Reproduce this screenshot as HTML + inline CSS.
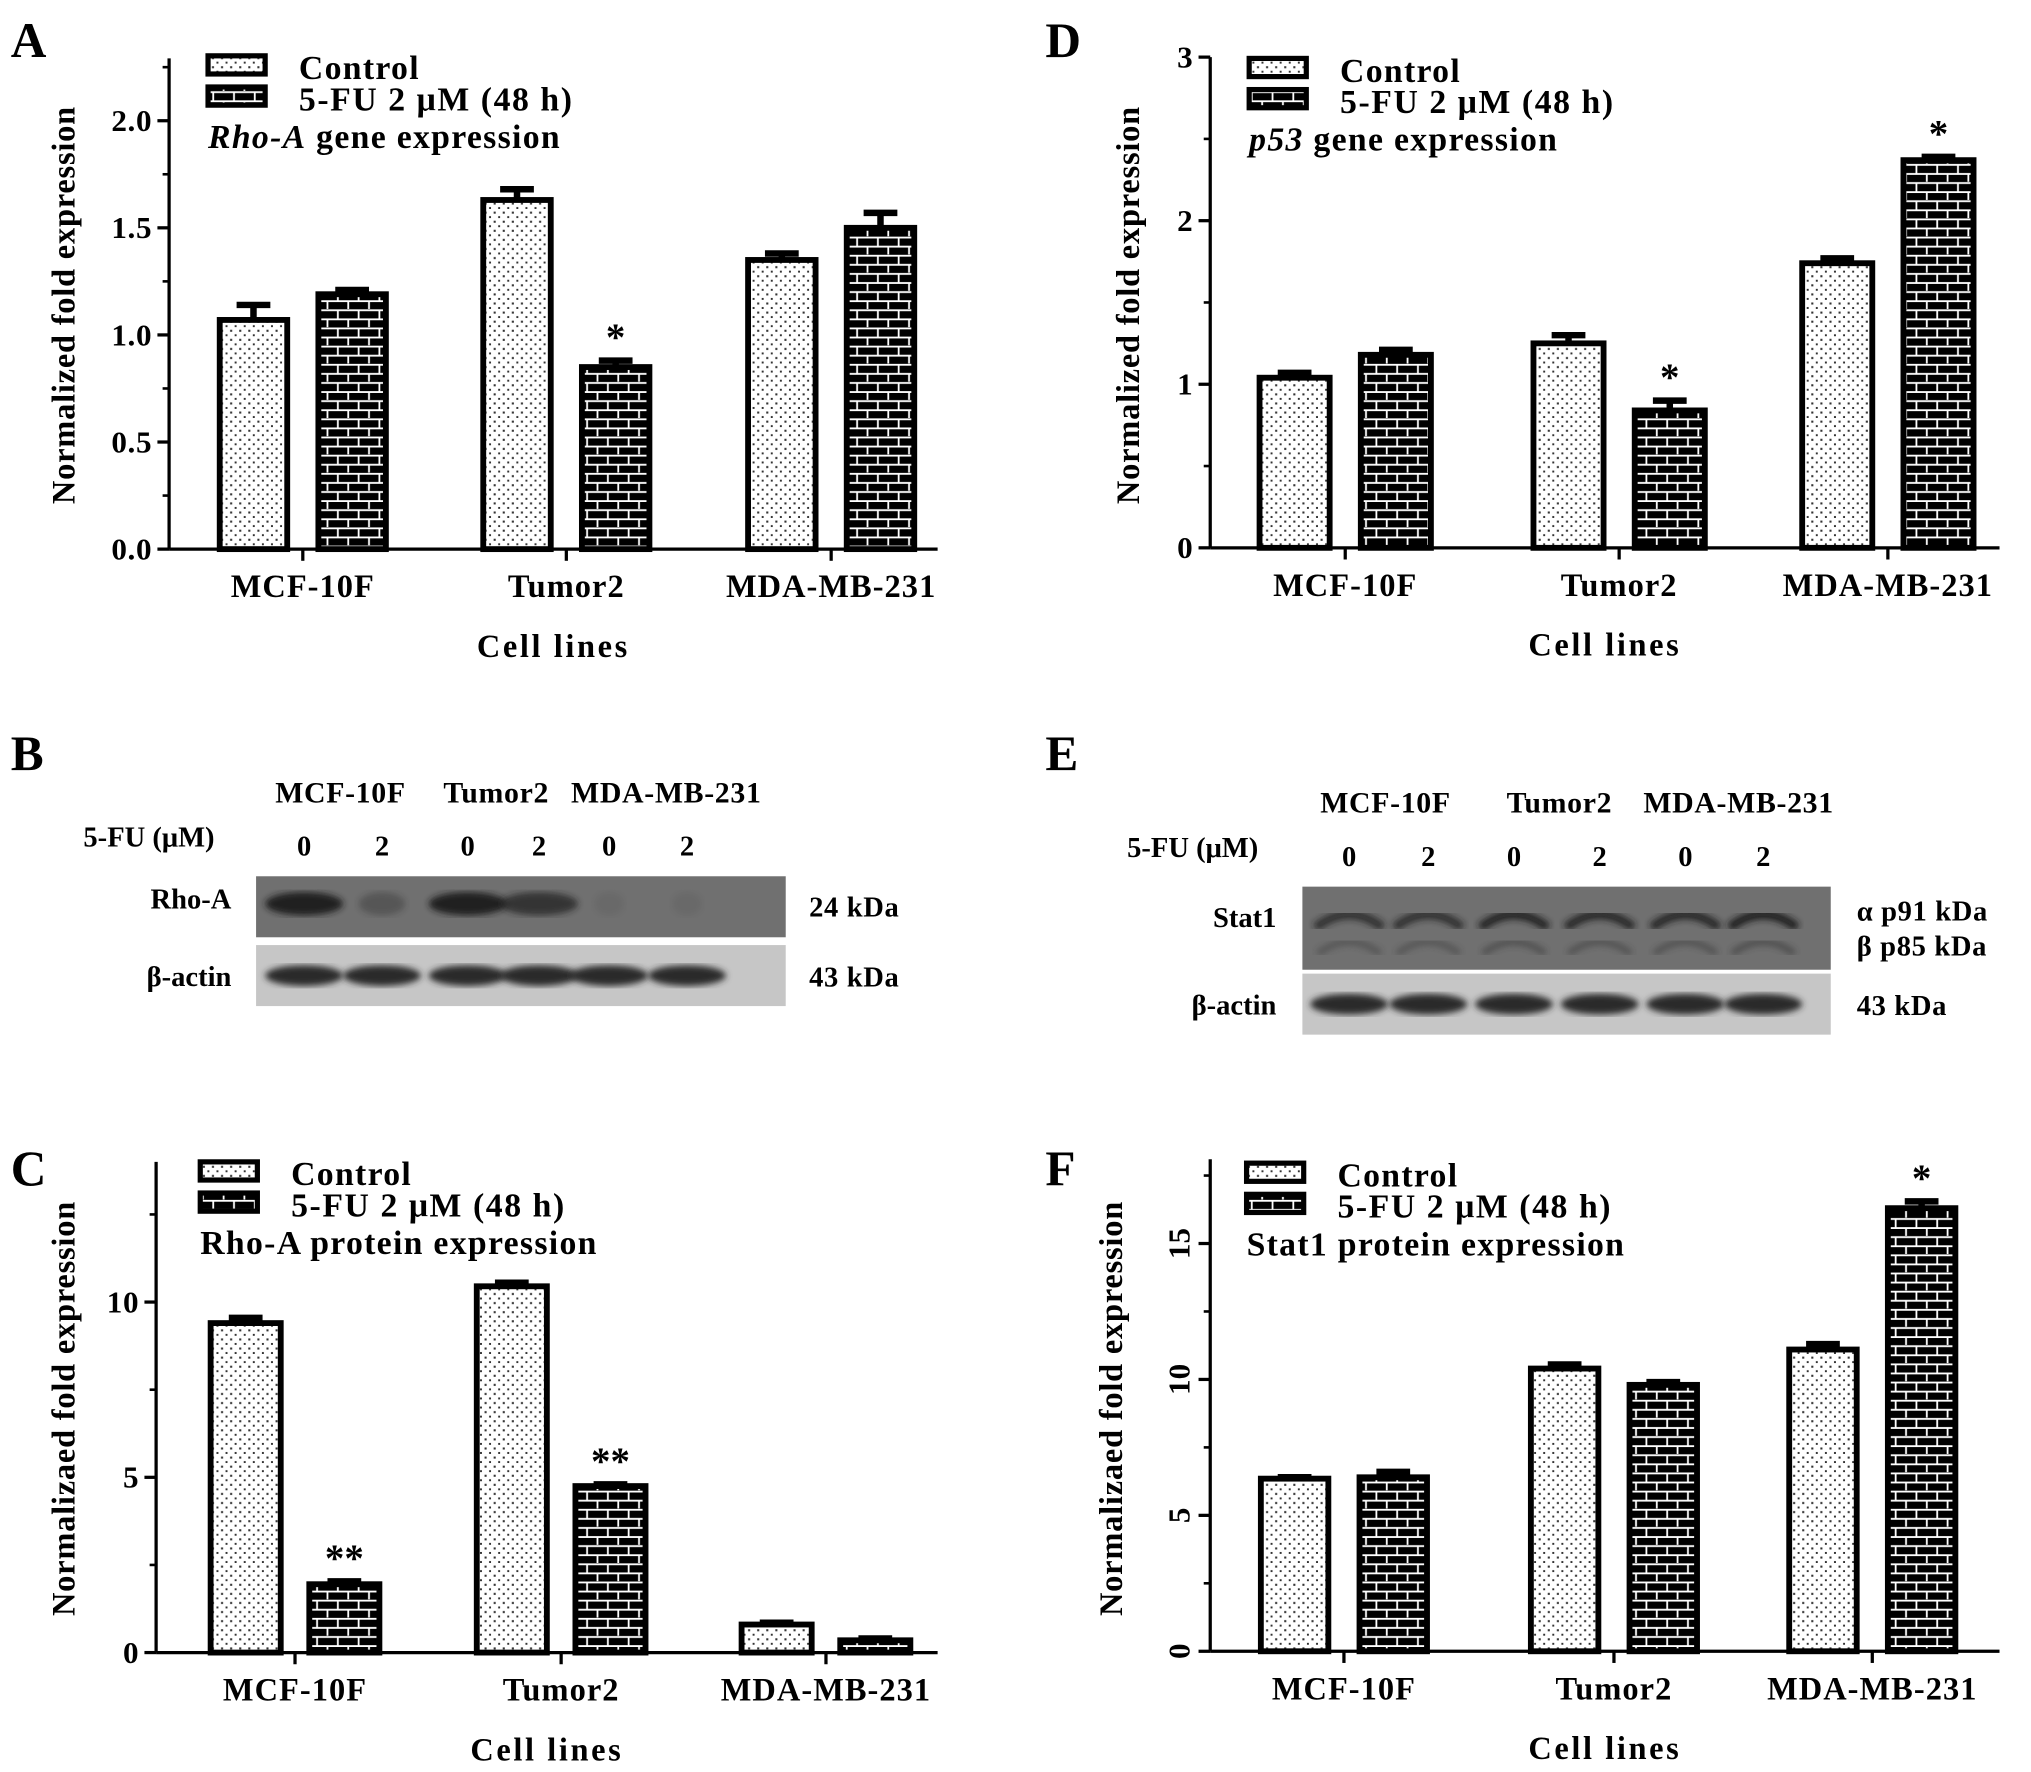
<!DOCTYPE html>
<html><head><meta charset="utf-8"><style>
html,body{margin:0;padding:0;background:#fff}
svg{display:block}
text{font-family:"Liberation Serif",serif;font-weight:bold;fill:#000}
</style></head><body>
<svg id="fig" width="2031" height="1772" viewBox="0 0 1564 1365" xmlns="http://www.w3.org/2000/svg">
<defs>
<pattern id="dots" width="7" height="7" patternUnits="userSpaceOnUse">
<rect width="7" height="7" fill="#fff"/><rect x="2" y="2" width="1.6" height="1.6" fill="#333"/><rect x="5.5" y="5.5" width="1.6" height="1.6" fill="#333"/>
</pattern>
<pattern id="brick" width="16" height="14" patternUnits="userSpaceOnUse">
<rect width="16" height="14" fill="#000"/>
<path d="M0 1 H16 M0 8 H16 M4 1 V8 M12 8 V14" stroke="#fff" stroke-width="1.4"/>
</pattern>
<filter id="blur"><feGaussianBlur stdDeviation="2.5"/></filter>
</defs>
<g id="root"></g>
</svg>
<script>
// Panel A data
const catsA = ["MCF-10F","Tumor2","MDA-MB-231"];
const ctrlA = [1.07,1.63,1.35];
const ctrlErrA = [0.07,0.05,0.03];
const trtA = [1.19,0.85,1.50];
const trtErrA = [0.02,0.03,0.07];
const ticksA = ["0.0","0.5","1.0","1.5","2.0"];
// Panel D data
const catsD = ["MCF-10F","Tumor2","MDA-MB-231"];
const ctrlD = [1.04,1.25,1.74];
const ctrlErrD = [0.03,0.05,0.03];
const trtD = [1.18,0.84,2.37];
const trtErrD = [0.03,0.06,0.02];
const ticksD = ["0","1","2","3"];
// Panel C data
const catsC = ["MCF-10F","Tumor2","MDA-MB-231"];
const ctrlC = [9.4,10.45,0.8];
const ctrlErrC = [0.15,0.1,0.05];
const trtC = [1.95,4.75,0.35];
const trtErrC = [0.08,0.05,0.05];
const ticksC = ["0","5","10"];
// Panel F data
const catsF = ["MCF-10F","Tumor2","MDA-MB-231"];
const ctrlF = [6.35,10.4,11.1];
const ctrlErrF = [0.05,0.15,0.2];
const trtF = [6.4,9.8,16.3];
const trtErrF = [0.2,0.1,0.25];
const ticksF = ["0","5","10","15"];

const NS="http://www.w3.org/2000/svg";
const root=document.getElementById('root');
function mk(tag,attrs,parent){const e=document.createElementNS(NS,tag);for(const k in attrs)e.setAttribute(k,attrs[k]);(parent||root).appendChild(e);return e;}
function txt(s,x,y,size,parent,extra){const t=mk('text',Object.assign({x:x,y:y,'font-size':size},extra||{}),parent);t.textContent=s;return t;}

function panel(o){
  const g=mk('g',{});
  
  
  const yS=v=>o.y0-(v/o.step)*o.stepPx;
  const xS=(i,k)=>o.cx[i]+(k===0?-o.off:o.off);
  const ax=mk('line',{x1:o.ax,y1:o.y0,x2:o.ax,y2:o.top,stroke:'#000','stroke-width':2.5},g);
  
  o.ticks.forEach((t,i)=>{
    const y=yS(i*o.step);
    mk('line',{x1:o.ax-9,y1:y,x2:o.ax,y2:y,stroke:'#000','stroke-width':2.5},g);
    if(o.minor){const ym=yS((i+0.5)*o.step); if(ym>o.top) mk('line',{x1:o.ax-5,y1:ym,x2:o.ax,y2:ym,stroke:'#000','stroke-width':2},g);}
    let tl;
    if(o.rotTicks) tl=txt(t,0,0,24,g,{'text-anchor':'middle',transform:`translate(${o.ax-16},${y}) rotate(-90)`});
    else tl=txt(t,o.ax-13,y+8,24,g,{'text-anchor':'end','letter-spacing':'0.5'});
    
  });
  const xa=mk('line',{x1:o.ax,y1:o.y0,x2:o.xEnd,y2:o.y0,stroke:'#000','stroke-width':2.5},g);
  
  o.cats.forEach((c,i)=>{
    mk('line',{x1:o.cx[i],y1:o.y0,x2:o.cx[i],y2:o.y0+9,stroke:'#000','stroke-width':2.5},g);
    const tl=txt(c,o.cx[i],o.y0+37,25,g,{'text-anchor':'middle','letter-spacing':'0.8'});
    
  });
  const xt=txt('Cell lines',(o.ax+o.xEnd)/2,o.y0+83,25,g,{'text-anchor':'middle','letter-spacing':'2'});
  
  const yt=txt(o.ytitle,0,0,25,g,{'text-anchor':'middle','letter-spacing':'0.6',transform:`translate(${o.ytx},${o.yty}) rotate(-90)`});
  
  [[o.ctrl,o.ctrlErr,'url(#dots)'],[o.trt,o.trtErr,'url(#brick)']].forEach((s,k)=>{
    s[0].forEach((v,i)=>{
      const x=xS(i,k),y=yS(v),w=o.bw;
      const eT=yS(v+s[1][i]);
      mk('line',{x1:x,y1:y,x2:x,y2:eT,stroke:'#000','stroke-width':5},g);
      mk('line',{x1:x-13,y1:eT,x2:x+13,y2:eT,stroke:'#000','stroke-width':5},g);
      const b=mk('rect',{x:x-w/2,y:y,width:w,height:o.y0-y,fill:s[2],stroke:'#000','stroke-width':4.5},g);
      
      
      if(o.stars && o.stars[k][i]){const st=txt(o.stars[k][i],x,eT-8,30,g,{'text-anchor':'middle'});
        }
    });
  });
  const lg=mk('g',{},g);
  mk('rect',{x:o.lx,y:o.ly,width:44,height:14,fill:'url(#dots)',stroke:'#000','stroke-width':4},lg);
  mk('rect',{x:o.lx,y:o.ly+24,width:44,height:14,fill:'url(#brick)',stroke:'#000','stroke-width':4},lg);
  txt('Control',o.lx+70,o.ly+18,26,lg,{'letter-spacing':'1'});
  txt('5-FU 2 \u03bcM (48 h)',o.lx+70,o.ly+42,26,lg,{'letter-spacing':'1.2'});
  const tt=mk('text',{x:o.lx,y:o.ly+71,'font-size':26,'letter-spacing':'1'},lg);
  if(o.italic){const a=mk('tspan',{'font-style':'italic'},tt);a.textContent=o.italic;const b=mk('tspan',{},tt);b.textContent=o.title;}
  else tt.textContent=o.title;
  const L=txt(o.letter,o.letX,o.letY,38,g);
}

panel({name:'panel-a-chart',letter:'A',letX:8,letY:44,cats:catsA,ctrl:ctrlA,ctrlErr:ctrlErrA,trt:trtA,trtErr:trtErrA,ticks:ticksA,
 step:0.5,stepPx:82.5,y0:423,top:45,ax:130,xEnd:722,cx:[233,436,640],off:38,bw:52,minor:true,
 ytitle:'Normalized fold expression',ytx:57,yty:235,lx:160,ly:43,italic:'Rho-A',title:' gene expression',stars:[[0,0,0],[0,'*',0]]});
panel({name:'panel-d-chart',letter:'D',letX:805,letY:44,cats:catsD,ctrl:ctrlD,ctrlErr:ctrlErrD,trt:trtD,trtErr:trtErrD,ticks:ticksD,
 step:1,stepPx:126,y0:422,top:44,ax:932,xEnd:1540,cx:[1036,1247,1454],off:39,bw:54,minor:true,
 ytitle:'Normalized fold expression',ytx:877,yty:235,lx:962,ly:45,italic:'p53',title:' gene expression',stars:[[0,0,0],[0,'*','*']]});
panel({name:'panel-c-chart',letter:'C',letX:8,letY:913,cats:catsC,ctrl:ctrlC,ctrlErr:ctrlErrC,trt:trtC,trtErr:trtErrC,ticks:ticksC,
 step:5,stepPx:135,y0:1273,top:895,ax:120,xEnd:722,cx:[227,432,636],off:38,bw:54,minor:true,
 ytitle:'Normalizaed fold expression',ytx:57,yty:1085,lx:154,ly:895,title:'Rho-A protein expression',stars:[[0,0,0],['**','**',0]]});
panel({name:'panel-f-chart',letter:'F',letX:805,letY:913,cats:catsF,ctrl:ctrlF,ctrlErr:ctrlErrF,trt:trtF,trtErr:trtErrF,ticks:ticksF,
 step:5,stepPx:104.7,y0:1272,top:893,ax:932,xEnd:1540,cx:[1035,1243,1442],off:38,bw:52,minor:true,rotTicks:true,
 ytitle:'Normalizaed fold expression',ytx:864,yty:1085,lx:960,ly:896,title:'Stat1 protein expression',stars:[[0,0,0],[0,0,'*']]});

function blot(o){
  const g=mk('g',{});
  const L=txt(o.letter,o.letX,o.letY,38,g);
  o.groups.forEach((s,i)=>txt(s,o.gx[i],o.gy,23,g,{'text-anchor':'middle','letter-spacing':'0.5'}));
  txt('5-FU (\u03bcM)',o.fx,o.fy,22,g,{'text-anchor':'start'});
  ['0','2','0','2','0','2'].forEach((s,i)=>txt(s,o.lanes[i],o.fy+7,22,g,{'text-anchor':'middle'}));
  const r1=mk('rect',{x:o.x,y:o.r1y,width:o.w,height:o.r1h,fill:'#707070'},g);
  const r2=mk('rect',{x:o.x,y:o.r2y,width:o.w,height:o.r2h,fill:'#c6c6c6'},g);
  o.r1bands.forEach((b,i)=>{
    if(b<=0) return;
    const cx=o.lanes[i], cy=o.r1y+o.r1h*0.4;
    if(o.arc){
      mk('path',{d:`M${cx-26} ${cy+6} Q${cx} ${cy-14} ${cx+26} ${cy+6}`,fill:'none',stroke:'#1a1a1a','stroke-width':7,opacity:b,filter:'url(#blur)'},g);
      mk('path',{d:`M${cx-24} ${cy+26} Q${cx} ${cy+8} ${cx+24} ${cy+26}`,fill:'none',stroke:'#2a2a2a','stroke-width':5,opacity:b*0.5,filter:'url(#blur)'},g);
    } else mk('ellipse',{cx:cx,cy:o.r1y+o.r1h*0.45,rx:30*Math.min(1,b+0.3),ry:9,fill:'#1a1a1a',opacity:b,filter:'url(#blur)'},g);
  });
  o.lanes.forEach(lx=>mk('ellipse',{cx:lx,cy:o.r2y+o.r2h*0.5,rx:30,ry:8,fill:'#2a2a2a',filter:'url(#blur)'},g));
  txt(o.lab1,o.l1x,o.l1y,22,g,{'text-anchor':'end'});
  txt('\u03b2-actin',o.l1x,o.r2y+o.r2h/2+8,22,g,{'text-anchor':'end'});
  o.kda.forEach(k=>txt(k[0],k[1],k[2],22,g,{'letter-spacing':'0.5'}));
}
blot({name:'panel-b-blot',letter:'B',letX:8,letY:593,groups:['MCF-10F','Tumor2','MDA-MB-231'],gx:[262,382,513],gy:618,
 fx:64,fy:652,lanes:[234,294,360,415,469,529],x:197,w:408,r1y:675,r1h:47,r2y:728,r2h:47,r1bands:[0.95,0.3,0.95,0.7,0.08,0.08],
 lab1:'Rho-A',l1x:178,l1y:700,kda:[['24 kDa',623,706],['43 kDa',623,760]]});
blot({name:'panel-e-blot',letter:'E',letX:805,letY:593,groups:['MCF-10F','Tumor2','MDA-MB-231'],gx:[1067,1201,1339],gy:626,
 fx:868,fy:660,lanes:[1039,1100,1166,1232,1298,1358],x:1003,w:407,r1y:683,r1h:64,r2y:750,r2h:47,r1bands:[0.75,0.75,0.9,0.85,0.85,0.95],arc:true,
 lab1:'Stat1',l1x:983,l1y:714,kda:[['\u03b1 p91 kDa',1430,709],['\u03b2 p85 kDa',1430,736],['43 kDa',1430,782]]});
</script>
</body></html>
